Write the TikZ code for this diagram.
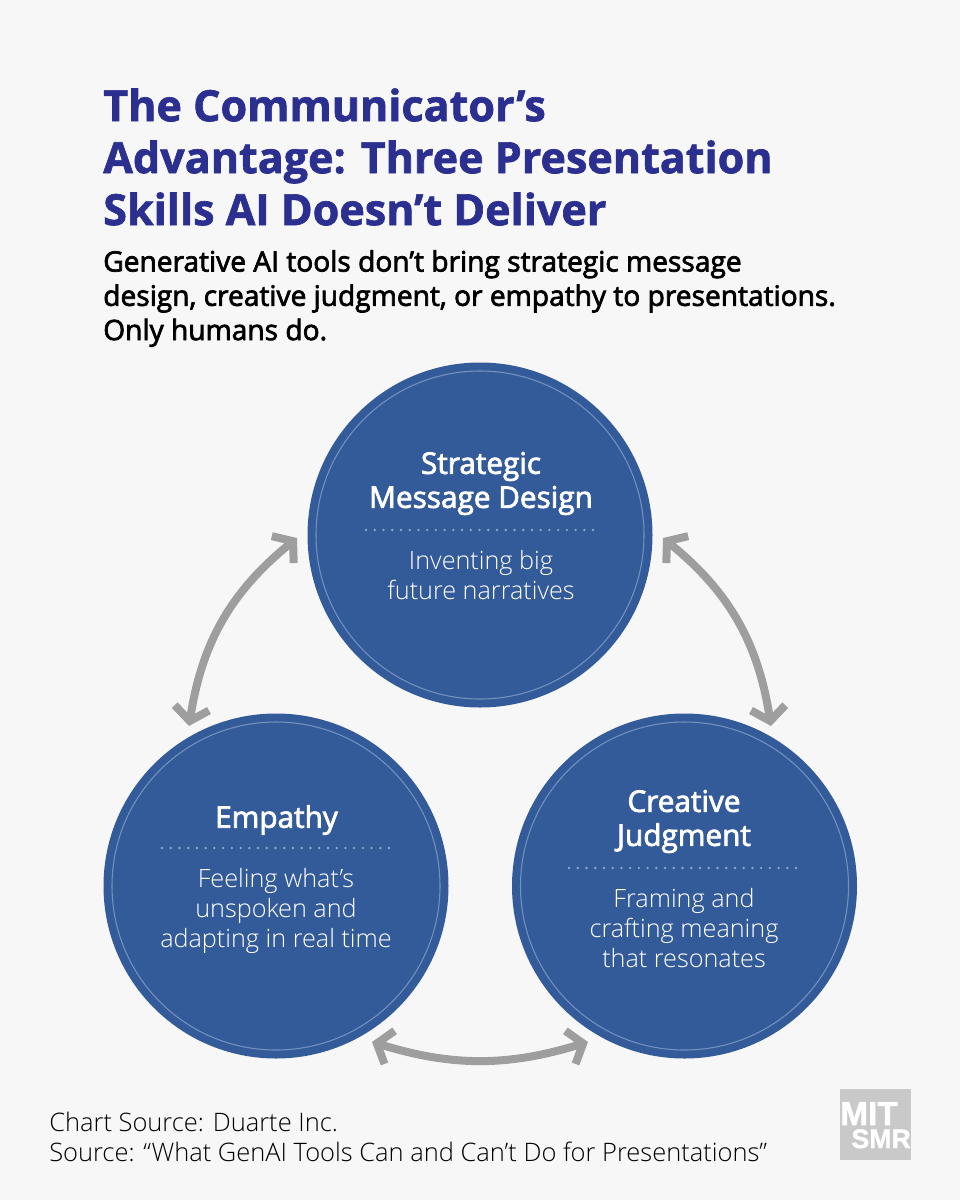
\documentclass[tikz,border=0pt]{standalone}
\usepackage{fontspec}
\usetikzlibrary{arrows.meta}
\setmainfont{Open Sans}[BoldFeatures={FakeBold=1.5}]
\newfontfamily\lightf{Open Sans Light}
\newfontfamily\medf{Open Sans}[FakeBold=2.5]
\newfontfamily\logof{Liberation Sans}[BoldFont={Liberation Sans Bold},BoldFeatures={FakeBold=1.5}]
\definecolor{bgc}{HTML}{F7F7F7}
\definecolor{titlec}{HTML}{2B2F8F}
\definecolor{circc}{HTML}{345B99}
\definecolor{ringc}{HTML}{7391BF}
\definecolor{dotc}{HTML}{8FA8CC}
\definecolor{arrc}{HTML}{9E9E9E}
\definecolor{logoc}{HTML}{C9C9C9}
\tikzset{
  disc/.style={circle,fill=circc,minimum size=345*0.75pt,inner sep=0pt},
  ringline/.style={draw=ringc,line width=0.8pt},
  dotline/.style={draw=dotc,line width=2pt,line cap=round,dash pattern=on 0pt off 6.55pt},
  head/.style={text=white,align=center,font=\medf\fontsize{22.3}{25.5}\selectfont},
  body/.style={text=white,align=center,font=\lightf\fontsize{18.9}{22.5}\selectfont},
  twoway/.style={draw=arrc,line width=6pt,{Straight Barb[length=10pt,width=26pt,line width=6pt]}-{Straight Barb[length=10pt,width=26pt,line width=6pt]}},
  logot/.style={text=white,font=\logof\bfseries\fontsize{25}{25}\selectfont,inner sep=0pt,text depth=0pt,text height=17pt},
}
\begin{document}
\begin{tikzpicture}[x=0.75pt,y=-0.75pt]
\fill[bgc] (0,0) rectangle (960,1200);
\useasboundingbox (0,0) rectangle (960,1200);
% title
\node[anchor=west,text=titlec,align=left,inner sep=0pt,font=\bfseries\fontsize{32.3}{39}\selectfont] (title) at (103,157) {The Communicator’s\\Advantage: Three Presentation\\Skills AI Doesn’t Deliver};
\node[anchor=west,text=black,align=left,inner sep=0pt,font=\medf\fontsize{21.1}{25.7}\selectfont] (sub) at (103,298.5) {Generative AI tools don’t bring strategic message\\design, creative judgment, or empathy to presentations.\\Only humans do.};
% discs
\node[disc] (top) at (480,535) {};
\node[disc] (left) at (276,886) {};
\node[disc] (right) at (684.5,886) {};
\draw[ringline] (top) circle (164);
\draw[ringline] (left) circle (164);
\draw[ringline] (right) circle (164);
% dotted rules
\coordinate (ta) at (366,530); \coordinate (tb) at (597,530);
\coordinate (la) at (162,848); \coordinate (lb) at (393,848);
\coordinate (ra) at (569,868); \coordinate (rb) at (800,868);
\draw[dotline] (ta) -- (tb);
\draw[dotline] (la) -- (lb);
\draw[dotline] (ra) -- (rb);
% texts
\node[head] (th) at (481,483.5) {Strategic\\Message Design};
\node[body] (tt) at (481,575) {Inventing big\\future narratives};
\node[head] (lh) at (276.5,820) {Empathy};
\node[body] (lt) at (276,911) {Feeling what’s\\unspoken and\\adapting in real time};
\node[head] (rh) at (684,821.5) {Creative\\Judgment};
\node[body] (rt) at (684,928) {Framing and\\crafting meaning\\that resonates};
% connectors
\coordinate (a1) at (297,538); \coordinate (a2) at (189,726);
\coordinate (b1) at (663,538); \coordinate (b2) at (771,726);
\coordinate (c1) at (372,1042); \coordinate (c2) at (588,1042);
\draw[twoway] (a1) to[bend right=21] (a2);
\draw[twoway] (b1) to[bend left=21] (b2);
\draw[twoway] (c1) to[bend right=17] (c2);
% source
\node[anchor=west,text=black,align=left,inner sep=0pt,font=\lightf\fontsize{19.1}{22.5}\selectfont] (src) at (49,1137) {Chart Source: Duarte Inc.\\Source: “What GenAI Tools Can and Can’t Do for Presentations”};
% logo
\node[fill=logoc,minimum size=71*0.75pt,inner sep=0pt] (logo) at (875.5,1124.5) {};
\begin{scope}
\clip (840,1089) rectangle (911,1160);
\node[logot,anchor=base east] (mit) at (898,1125) {MIT};
\node[logot,anchor=base east,text height=14.5pt,font=\logof\bfseries\fontsize{20}{20}\selectfont] (smr) at (911,1148) {SMR};
\end{scope}
\end{tikzpicture}
\end{document}
